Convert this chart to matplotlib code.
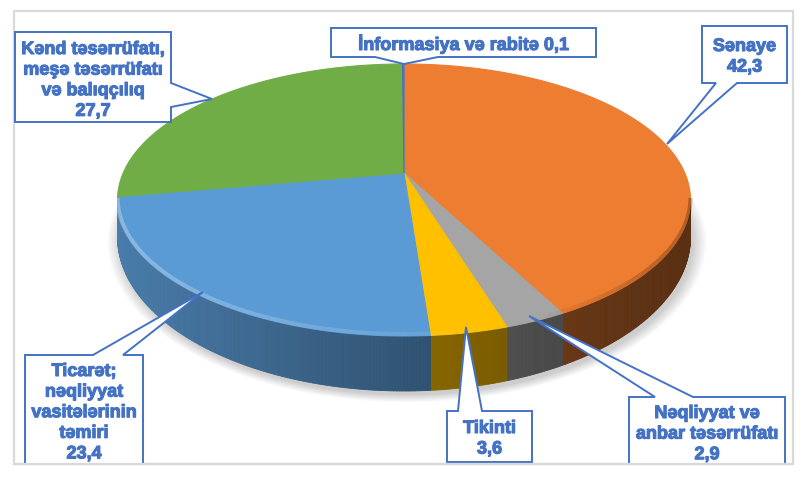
import numpy as np
import matplotlib.pyplot as plt
from matplotlib.patches import Polygon, Rectangle
from matplotlib.collections import PolyCollection, LineCollection
from matplotlib import font_manager
from matplotlib.colors import to_rgb
import matplotlib.patheffects as pe

# Məlumatlar (faizlə)
labels = ['Sənaye', 'Nəqliyyat və\nanbar təsərrüfatı', 'Tikinti',
          'Ticarət;\nnəqliyyat\nvasitələrinin\ntəmiri',
          'Kənd təsərrüfatı,\nmeşə təsərrüfatı\nvə balıqçılıq',
          'İnformasiya və rabitə']
values = [42.3, 2.9, 3.6, 23.4, 27.7, 0.1]
value_sep = ['\n', '\n', '\n', '\n', '\n', ' ']
colors = ['#ED7D31', '#A5A5A5', '#FFC000', '#5B9BD5', '#70AD47', '#4472C4']

# Çıxış qutularının yerləşməsi (piksel): qutu, quyruğun tərəfi, quyruq bazası, ucu, ilk sətrin baza xətti
callouts = [
    dict(box=(702, 26, 787, 83), side='bottom', base=(716, 737), tip=(667, 144), y0=51),
    dict(box=(629, 397, 785, 470), side='top', base=(655, 693), tip=(529, 316), y0=418),
    dict(box=(447, 411, 532, 462), side='top', base=(458, 482), tip=(466, 327), y0=433),
    dict(box=(25, 355, 143, 470), side='top', base=(93, 123), tip=(203, 292), y0=376),
    dict(box=(15, 32, 171, 122), side='right', base=(83, 107), tip=(212, 99), y0=54),
    dict(box=(331, 28, 596, 57), side='bottom', base=(375, 438), tip=(404, 64), y0=50),
]

fonts = font_manager.fontManager.ttflist
narrow = [f for f in fonts if f.name == 'Liberation Sans Narrow']
fam = 'Liberation Sans Narrow' if narrow else 'Liberation Sans'
txt_color = '#4472C4'
effects = [pe.withStroke(linewidth=0.8, foreground=txt_color)]

fig = plt.figure(figsize=(8.1, 4.83), dpi=100)
ax = fig.add_axes([0, 0, 1, 1])
ax.set_xlim(0, 810)
ax.set_ylim(483, 0)
ax.axis('off')

# pie geometry: ellipse + perspective shift of the centre
CX, CY, A, B = 404, 200, 286.5, 136
T = np.arctanh(-0.1985)
CH, SH = np.cosh(T), np.sinh(T)


def rim(phi):
    p = np.radians(phi)
    X, Y = np.sin(p), -np.cos(p)
    d = Y * SH + CH
    yp = (Y * CH + SH) / d
    return CX + A * X / d, CY + B * yp, yp


def depth(yp):
    return 37 + 18 * np.clip(yp, 0, None)


def shade(x):
    return 0.38 + 0.42 * np.clip((690 - x) / 573, 0, 1) ** 1.3


centre = (CX, CY + B * np.tanh(T))
vis_lo = np.degrees(np.arccos(np.tanh(T)))
vis_hi = 360 - vis_lo

# soft shadow
phis = np.linspace(0, 360, 361)
bx, by, byp = rim(phis)
by = by + depth(byp)
for k in range(10):
    s = 1 + k * 0.005
    pts = np.column_stack([CX + (bx - CX) * s + 3, 232 + (by - 232) * s + 4])
    ax.add_patch(Polygon(pts, closed=True, fc='k', ec='none', alpha=0.018))

cum = np.concatenate([[0], np.cumsum(values)]) / sum(values) * 360

# side walls
quads, qcols = [], []
for i, c in enumerate(colors):
    lo, hi = max(cum[i], vis_lo), min(cum[i + 1], vis_hi)
    if hi <= lo:
        continue
    n = max(2, int((hi - lo) / 0.5) + 1)
    ph = np.linspace(lo, hi, n)
    tx, ty, typ = rim(ph)
    dy = depth(typ)
    base = np.array(to_rgb(c))
    for j in range(n - 1):
        q = [(tx[j], ty[j]), (tx[j + 1], ty[j + 1]),
             (tx[j + 1], ty[j + 1] + dy[j + 1]), (tx[j], ty[j] + dy[j])]
        quads.append(q)
        qcols.append(np.clip(base * shade((tx[j] + tx[j + 1]) / 2), 0, 1))
ax.add_collection(PolyCollection(quads, facecolors=qcols, edgecolors=qcols, linewidths=0.6))

# top faces
for i, c in enumerate(colors):
    ph = np.linspace(cum[i], cum[i + 1], max(2, int(cum[i + 1] - cum[i]) * 2 + 2))
    tx, ty, _ = rim(ph)
    pts = np.vstack([[centre], np.column_stack([tx, ty])])
    ax.add_patch(Polygon(pts, closed=True, fc=c, ec=c, lw=0.8))

# rim bevel
ph = np.linspace(vis_lo, vis_hi, 300)
rx, ry, _ = rim(ph)
segs = [[(rx[j], ry[j] - 2), (rx[j + 1], ry[j + 1] - 2)] for j in range(len(ph) - 1)]
mx = (rx[:-1] + rx[1:]) / 2
light = [(1, 1, 1, 0.3 * np.clip((520 - x) / 400, 0, 1)) for x in mx]
dark = [(0, 0, 0, 0.25 * np.clip((x - 540) / 150, 0, 1)) for x in mx]
ax.add_collection(LineCollection(segs, colors=light, linewidths=3))
ax.add_collection(LineCollection(segs, colors=dark, linewidths=3))

# frame
frame = Rectangle((14, 11), 779, 453, fc='none', ec='#D9D9D9', lw=1.6)
ax.add_patch(frame)
clip = Rectangle((0, 0), 810, 464, transform=ax.transData)

# callouts
for lab, v, sep, co in zip(labels, values, value_sep, callouts):
    x0, y0, x1, y1 = co['box']
    b1, b2 = co['base']
    tip = co['tip']
    pts = [(x0, y0)]
    if co['side'] == 'top':
        pts += [(b1, y0), tip, (b2, y0)]
    pts.append((x1, y0))
    if co['side'] == 'right':
        pts += [(x1, b1), tip, (x1, b2)]
    pts.append((x1, y1))
    if co['side'] == 'bottom':
        pts += [(b2, y1), tip, (b1, y1)]
    pts.append((x0, y1))
    p = Polygon(pts, closed=True, fc='white', ec='#4472C4', lw=1.4, zorder=5)
    ax.add_patch(p)
    p.set_clip_path(clip)
    text = lab + sep + f'{v:.1f}'.replace('.', ',')
    for k, line in enumerate(text.split('\n')):
        ax.text((x0 + x1) / 2, co['y0'] + k * 20.6, line, ha='center', va='baseline',
                fontsize=13, fontweight='bold', color=txt_color,
                family=[fam, 'DejaVu Sans'], zorder=6, path_effects=effects)

ax.plot([14, 793], [464, 464], color='#D9D9D9', lw=1.6, zorder=7)

fig.savefig('out.png', dpi=100)
